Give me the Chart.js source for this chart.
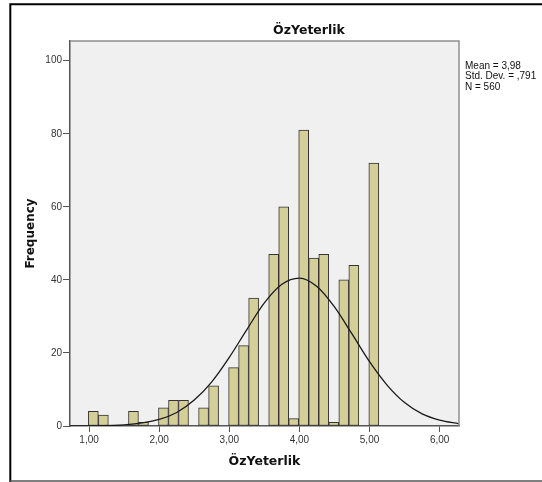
<!DOCTYPE html>
<html>
<head>
<meta charset="utf-8">
<script src="https://cdn.jsdelivr.net/npm/chart.js@4.4.1/dist/chart.umd.min.js"></script>
<style>
  html, body { margin: 0; padding: 0; background: #fff; }
  #wrap { width: 542px; height: 482px; }
</style>
</head>
<body>
<div id="wrap"><canvas id="histChart" width="542" height="482"></canvas></div>
<script>
// bin centres (bins are 1/7 wide) and counts
const binCenters = [1.061, 1.204, 1.347, 1.490, 1.633, 1.776, 1.918, 2.061, 2.204, 2.347,
                    2.490, 2.633, 2.776, 2.918, 3.061, 3.204, 3.347, 3.490, 3.633, 3.776,
                    3.918, 4.061, 4.204, 4.347, 4.490, 4.633, 4.776, 4.918, 5.061];
const frequencies = [4, 3, 0, 0, 4, 1, 0, 5, 7, 7,
                     0, 5, 11, 0, 16, 22, 35, 0, 47, 60,
                     2, 81, 46, 47, 1, 40, 44, 0, 72];

// normal curve, points
const curveX = [0.728, 1.0, 1.5, 2.0, 2.25, 2.5, 2.75, 3.0, 3.25, 3.5, 3.75,
                4.0, 4.25, 4.5, 4.75, 5.0, 5.25, 5.5, 5.75, 6.0, 6.276];
const curveY = [0.0, 0.03, 0.3, 1.8, 3.7, 7.1, 12.1, 18.8, 26.4, 33.7, 38.8,
                40.5, 38.2, 32.6, 25.2, 17.6, 11.2, 6.4, 3.3, 1.6, 0.6];

const xTickValues = [1, 2, 3, 4, 5, 6];
const xTickLabels = ['1,00', '2,00', '3,00', '4,00', '5,00', '6,00'];
const yTickValues = [0, 20, 40, 60, 80, 100];
const yTickLabels = ['0', '20', '40', '60', '80', '100'];

const chartTitle = 'ÖzYeterlik';
const xTitle = 'ÖzYeterlik';
const yTitle = 'Frequency';
const statsLines = ['Mean = 3,98', 'Std. Dev. = ,791', 'N = 560'];

Chart.defaults.font.family = '"Liberation Sans", Arial, sans-serif';
Chart.defaults.color = '#333';

const spssFrame = {
    id: 'spssFrame',
    beforeDraw(chart) {
        const { ctx, chartArea: a } = chart;
        ctx.save();
        ctx.fillStyle = '#fff';
        ctx.fillRect(0, 0, chart.width, chart.height);
        ctx.fillStyle = '#f0f0f0';
        ctx.fillRect(a.left, a.top, a.right - a.left, a.bottom - a.top);
        ctx.restore();
    },
    afterDraw(chart) {
        const { ctx, chartArea: a } = chart;
        ctx.save();
        // top / right edge of the plot
        ctx.strokeStyle = '#8e8e8e';
        ctx.lineWidth = 1.5;
        ctx.beginPath();
        ctx.moveTo(a.left, a.top);
        ctx.lineTo(a.right, a.top);
        ctx.lineTo(a.right, a.bottom);
        ctx.stroke();

        // outer frame (left + top black, bottom grey)
        ctx.strokeStyle = '#000';
        ctx.lineWidth = 2;
        ctx.beginPath();
        ctx.moveTo(10.3, 482);
        ctx.lineTo(10.3, 4.3);
        ctx.lineTo(542, 4.3);
        ctx.stroke();
        ctx.strokeStyle = '#555';
        ctx.lineWidth = 1.5;
        ctx.beginPath();
        ctx.moveTo(10, 481);
        ctx.lineTo(542, 481);
        ctx.stroke();

        // chart title
        ctx.fillStyle = '#111';
        ctx.font = 'bold 12.5px "DejaVu Sans", sans-serif';
        ctx.textAlign = 'center';
        ctx.textBaseline = 'alphabetic';
        ctx.fillText(chartTitle, 309, 34);

        // stats box
        ctx.font = '10px "Liberation Sans", Arial, sans-serif';
        ctx.textAlign = 'left';
        ctx.textBaseline = 'middle';
        statsLines.forEach((s, i) => ctx.fillText(s, 465, 66.5 + i * 10.2));
        ctx.restore();
    }
};

const ctx = document.getElementById('histChart').getContext('2d');
new Chart(ctx, {
    type: 'bar',
    data: {
        datasets: [
            {
                type: 'line',
                label: 'Normal',
                data: curveX.map((x, i) => ({ x: x, y: curveY[i] })),
                borderColor: '#1a1a1a',
                borderWidth: 1.3,
                pointRadius: 0,
                cubicInterpolationMode: 'monotone',
                fill: false,
                order: 0
            },
            {
                label: 'Frequency',
                data: binCenters.map((x, i) => ({ x: x, y: frequencies[i] })),
                backgroundColor: '#d4cf98',
                borderColor: '#333',
                borderWidth: 1,
                borderSkipped: false,
                barPercentage: 1,
                categoryPercentage: 1,
                order: 1
            }
        ]
    },
    options: {
        responsive: false,
        animation: false,
        layout: { padding: { top: 41, right: 83, left: 0, bottom: 0 } },
        plugins: {
            legend: { display: false },
            tooltip: { enabled: false }
        },
        scales: {
            x: {
                type: 'linear',
                min: 0.728,
                max: 6.276,
                offset: false,
                afterFit(scale) { scale.height = 56; },
                afterBuildTicks(scale) { scale.ticks = xTickValues.map(v => ({ value: v })); },
                grid: { offset: false, drawOnChartArea: false, drawTicks: true, tickLength: 6, color: '#555', lineWidth: 1 },
                border: { color: '#555', width: 1.5 },
                ticks: {
                    padding: 2,
                    maxRotation: 0,
                    font: { size: 10 },
                    callback: (v, i) => xTickLabels[i]
                },
                title: {
                    display: true,
                    text: xTitle,
                    color: '#111',
                    font: { family: '"DejaVu Sans", sans-serif', size: 12.5, weight: 'bold' },
                    padding: { top: 0, bottom: 12.8 }
                }
            },
            y: {
                min: 0,
                max: 105.4,
                afterFit(scale) { scale.width = 70; },
                afterBuildTicks(scale) { scale.ticks = yTickValues.map(v => ({ value: v })); },
                grid: { drawOnChartArea: false, drawTicks: true, tickLength: 7, color: '#555', lineWidth: 1 },
                border: { color: '#555', width: 1.5 },
                ticks: {
                    padding: 1,
                    font: { size: 10 },
                    callback: (v, i) => yTickLabels[i]
                },
                title: {
                    display: true,
                    text: yTitle,
                    color: '#111',
                    font: { family: '"DejaVu Sans", sans-serif', size: 12, weight: 'bold' },
                    padding: { top: 23.8, bottom: 0 }
                }
            }
        }
    },
    plugins: [spssFrame]
});
</script>
</body>
</html>
